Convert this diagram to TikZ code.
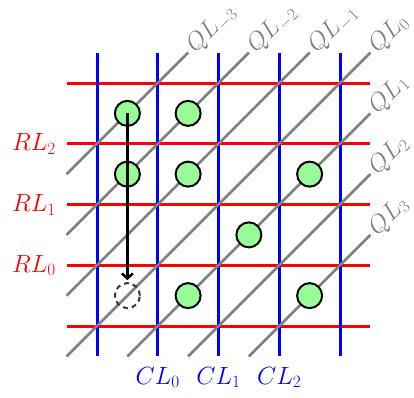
\documentclass[tikz,border=0pt]{standalone}
\usetikzlibrary{arrows.meta}
\definecolor{cgreen}{RGB}{152,251,152}
\begin{document}
\begin{tikzpicture}[x=60.75pt,y=60.75pt,
  redline/.style={red, line width=3pt},
  blueline/.style={blue, line width=3pt},
  diag/.style={gray, line width=2.5pt},
  dot/.style={circle, draw=black, fill=cgreen, line width=2pt, minimum size=25pt, inner sep=0pt},
  ghost/.style={circle, draw=black!80, dash pattern=on 5pt off 4pt, line width=2pt, minimum size=25pt, inner sep=0pt},
  lab/.style={font=\fontsize{23}{27}\selectfont, inner sep=0pt},
  qlab/.style={lab, gray, rotate=45, anchor=west, inner sep=3pt}]
\useasboundingbox (-1.5967,-1.1687) rectangle (5.2181,5.3663);
\foreach \j in {0,...,4} \draw[redline] (-0.5,\j) -- (4.5,\j);
\foreach \i in {0,...,4} \draw[blueline] (\i,-0.5) -- (\i,4.5);
\foreach \ax/\ay/\bx/\by/\k in {-0.5/2.5/1.5/4.5/-3, -0.5/1.5/2.5/4.5/-2, -0.5/0.5/3.5/4.5/-1, -0.5/-0.5/4.5/4.5/0, 0.5/-0.5/4.5/3.5/1, 1.5/-0.5/4.5/2.5/2, 2.5/-0.5/4.5/1.5/3}
  \draw[diag] (\ax,\ay) -- (\bx,\by) node[qlab] (q\k) {$QL_{\k}$};
\node[dot] (a) at (0.5,3.5) {};
\node[dot] (b) at (1.5,3.5) {};
\node[dot] (c) at (0.5,2.5) {};
\node[dot] (d) at (1.5,2.5) {};
\node[dot] (e) at (3.5,2.5) {};
\node[dot] (f) at (2.5,1.5) {};
\node[dot] (g) at (1.5,0.5) {};
\node[dot] (h) at (3.5,0.5) {};
\node[ghost] (z) at (0.5,0.5) {};
\draw[line width=2.5pt, -{Straight Barb[length=5pt,width=11pt]}, shorten >=2pt] (a.center) -- (z.north);
\node[lab, red, anchor=base] (rl2) at (-1.037,2.885) {$RL_2$};
\node[lab, red, anchor=base] (rl1) at (-1.037,1.885) {$RL_1$};
\node[lab, red, anchor=base] (rl0) at (-1.037,0.885) {$RL_0$};
\node[lab, blue, anchor=base] (cl0) at (1,-0.955) {$CL_0$};
\node[lab, blue, anchor=base] (cl1) at (2,-0.955) {$CL_1$};
\node[lab, blue, anchor=base] (cl2) at (3,-0.955) {$CL_2$};
\end{tikzpicture}
\end{document}
